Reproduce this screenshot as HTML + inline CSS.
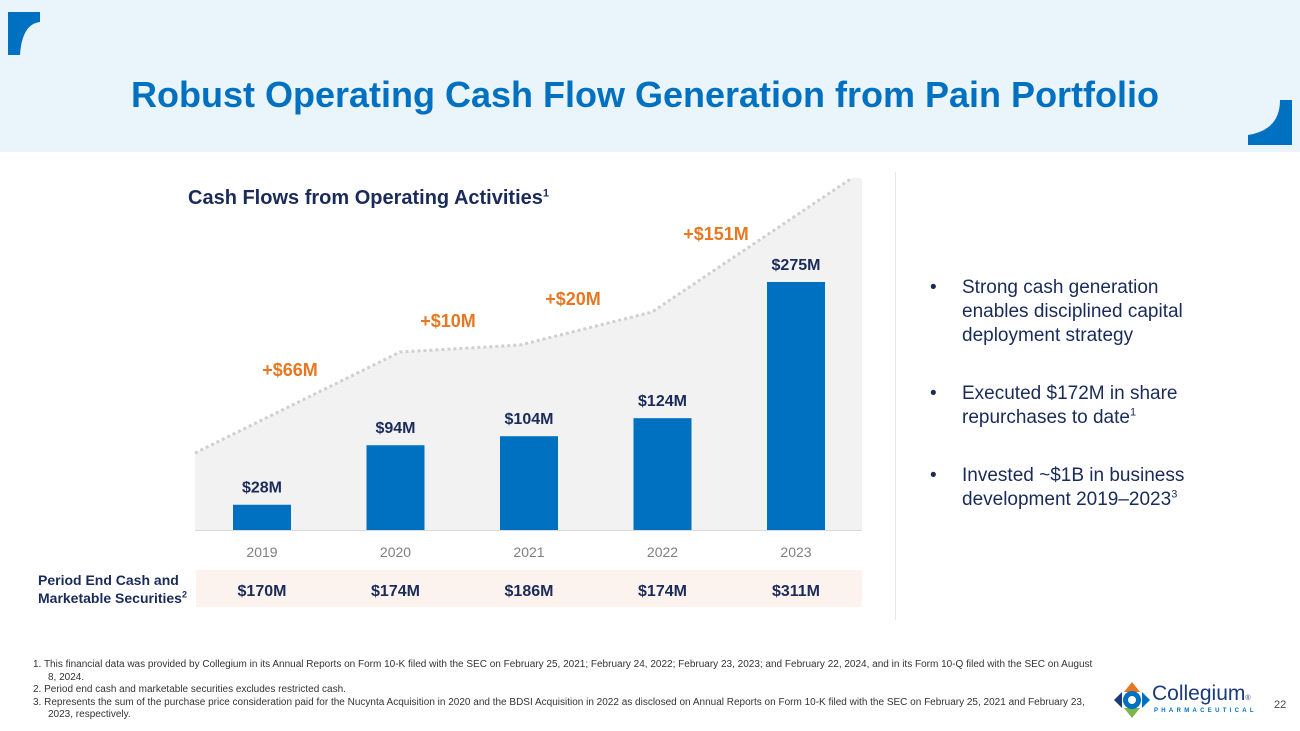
<!DOCTYPE html>
<html><head><meta charset="utf-8"><style>
body{margin:0;width:1300px;height:731px;overflow:hidden;background:#fff;font-family:"Liberation Sans",sans-serif;position:relative}
.a{position:absolute}
sup{line-height:0}
</style></head><body>
<div class="a" style="left:0;top:0;width:1300px;height:152px;background:#eaf4fb"></div>
<svg class="a" style="left:0;top:0" width="1300" height="160">
<path d="M8 12 L40 12 L40 22 Q22 24 20 55 L8 55 Z" fill="#0070c0"/>
<path d="M1292 100 L1292 145 L1248 145 L1248 135 Q1280 130 1280 100 Z" fill="#0070c0"/>
</svg>
<div class="a" style="left:0;width:1290px;top:74px;text-align:center;font-size:36px;font-weight:bold;color:#0070c0">Robust Operating Cash Flow Generation from Pain Portfolio</div>
<div class="a" style="left:188px;top:187px;font-size:20px;font-weight:bold;color:#1a2b5a">Cash Flows from Operating Activities<sup style="font-size:11px">1</sup></div>
<svg id="chart" class="a" style="left:0;top:0" width="900" height="620"></svg>
<div class="a" style="left:196px;top:570px;width:666px;height:37px;background:#fdf3ee"></div>
<div class="a" style="left:38px;top:571px;font-size:14px;font-weight:bold;color:#1a2b5a;line-height:18px">Period End Cash and<br>Marketable Securities<sup style="font-size:9px">2</sup></div>
<div class="a" style="left:895px;top:172px;width:1px;height:448px;background:#e6e6e6"></div>
<ul class="a" style="left:930px;top:276px;margin:0;padding:0;list-style:none;font-size:19px;color:#1a2b5a;line-height:24px">
<li style="position:relative;padding-left:32px;margin-bottom:34px"><span style="position:absolute;left:0">•</span>Strong cash generation<br>enables disciplined capital<br>deployment strategy</li>
<li style="position:relative;padding-left:32px;margin-bottom:34px"><span style="position:absolute;left:0">•</span>Executed $172M in share<br>repurchases to date<sup style="font-size:11px">1</sup></li>
<li style="position:relative;padding-left:32px"><span style="position:absolute;left:0">•</span>Invested ~$1B in business<br>development 2019–2023<sup style="font-size:11px">3</sup></li>
</ul>
<div class="a" style="left:33px;top:659px;width:1060px;font-size:10px;color:#333;line-height:12.5px">
<div style="padding-left:15px;text-indent:-15px">1. This financial data was provided by Collegium in its Annual Reports on Form 10-K filed with the SEC on February 25, 2021; February 24, 2022; February 23, 2023; and February 22, 2024, and in its Form 10-Q filed with the SEC on August 8, 2024.</div>
<div style="padding-left:15px;text-indent:-15px">2. Period end cash and marketable securities excludes restricted cash.</div>
<div style="padding-left:15px;text-indent:-15px">3. Represents the sum of the purchase price consideration paid for the Nucynta Acquisition in 2020 and the BDSI Acquisition in 2022 as disclosed on Annual Reports on Form 10-K filed with the SEC on February 25, 2021 and February 23, 2023, respectively.</div>
</div>
<svg class="a" style="left:1112px;top:680px" width="40" height="40">
<path d="M20 2 L28 12 L12 12 Z" fill="#e87722"/><path d="M12 28 L28 28 L20 38 Z" fill="#7ab648"/>
<path d="M2 20 L10 12 L10 28 Z" fill="#1a3a7a"/><circle cx="20" cy="20" r="9" fill="#0070c0"/><path d="M30 12 L38 20 L30 28 Z" fill="#0070c0"/><circle cx="20" cy="20" r="4" fill="#fff"/>
</svg>
<div class="a" style="left:1152px;top:682px;font-size:21px;color:#1a3a7a">Collegium<span style="font-size:7px">®</span></div>
<div class="a" style="left:1154px;top:708px;font-size:6px;letter-spacing:3.3px;color:#0070c0;font-weight:bold">PHARMACEUTICAL</div>
<div class="a" style="left:1274px;top:699px;font-size:11px;color:#444">22</div>
<script>
const years=['2019','2020','2021','2022','2023'];
const cfo=[28,94,104,124,275];
const deltas=['+$66M','+$10M','+$20M','+$151M'];
const cash=['$170M','$174M','$186M','$174M','$311M'];
const ns='http://www.w3.org/2000/svg';
const svg=document.getElementById('chart');
const base=530,scale=248/275,x0=262,step=133.5,bw=58;
const xf=i=>x0+i*step, yf=v=>base-v*scale;
function mk(t,a){const e=document.createElementNS(ns,t);for(const k in a)e.setAttribute(k,a[k]);svg.appendChild(e);return e;}
const tp=[[195,453],[400,352],[520,345],[652,312],[852,178]];
const area=mk('polygon',{points:tp.map(p=>p.join(',')).join(' ')+' 862,178 862,530 195,530',fill:'#f2f2f2'});

const line=mk('polyline',{points:tp.map(p=>p.join(',')).join(' '),fill:'none',stroke:'#d0d0d0','stroke-width':3,'stroke-dasharray':'3 3'});

const dpos=[[290,376],[448,327],[573,305],[716,240]];
deltas.forEach((d,i)=>{const t=mk('text',{x:dpos[i][0],y:dpos[i][1],'text-anchor':'middle','font-size':18,'font-weight':'bold',fill:'#e87722','font-family':'Liberation Sans'});t.textContent=d;
});
cfo.forEach((v,i)=>{
const r=mk('rect',{x:xf(i)-bw/2,y:yf(v),width:bw,height:v*scale,fill:'#0070c0'});

const t=mk('text',{x:xf(i),y:yf(v)-12,'text-anchor':'middle','font-size':16,'font-weight':'bold',fill:'#1a2b5a','font-family':'Liberation Sans'});t.textContent='$'+v+'M';

const y=mk('text',{x:xf(i),y:557,'text-anchor':'middle','font-size':14,fill:'#808080','font-family':'Liberation Sans'});y.textContent=years[i];

const c=mk('text',{x:xf(i),y:596,'text-anchor':'middle','font-size':16,'font-weight':'bold',fill:'#1a2b5a','font-family':'Liberation Sans'});c.textContent=cash[i];

});
const ax=mk('line',{x1:195,x2:862,y1:530.5,y2:530.5,stroke:'#d9d9d9'});

svg.parentNode.appendChild(svg);
</script>
</body></html>
